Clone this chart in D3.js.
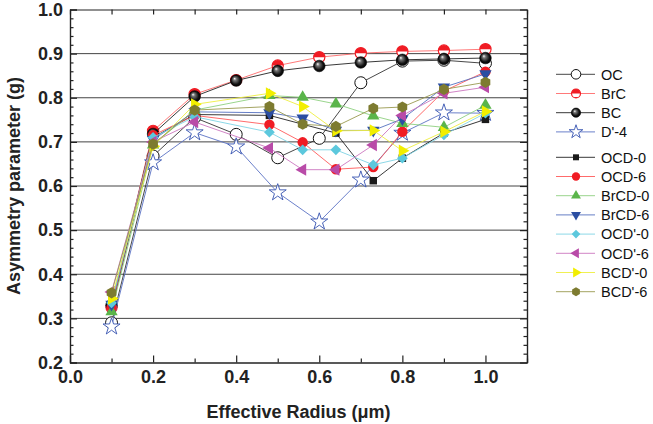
<!DOCTYPE html>
<html>
<head>
<meta charset="utf-8">
<script src="https://cdn.jsdelivr.net/npm/d3@7"></script>
<style>
  body { margin: 0; background: #fff; }
  svg { display: block; font-family: "Liberation Sans", Arial, sans-serif; }
</style>
</head>
<body>
<svg id="chart" width="653" height="424"></svg>
<script>
// effective radius values (um)
let radiusA = [0.1, 0.2, 0.3, 0.4, 0.5, 0.6, 0.7, 0.8, 0.9, 1.0];
let radiusB = [0.1, 0.2, 0.3, 0.48, 0.56, 0.64, 0.73, 0.8, 0.9, 1.0];

// asymmetry parameter g
let gOC    = [0.290, 0.668, 0.755, 0.717, 0.664, 0.708, 0.834, 0.883, 0.885, 0.878];
let gBrC   = [0.325, 0.725, 0.808, 0.840, 0.873, 0.892, 0.901, 0.905, 0.907, 0.910];
let gBC    = [0.330, 0.718, 0.803, 0.839, 0.861, 0.872, 0.880, 0.886, 0.888, 0.890];
let gD4    = [0.281, 0.653, 0.721, 0.689, 0.585, 0.519, 0.614, 0.720, 0.766, 0.765];
let gOCD0  = [0.320, 0.710, 0.762, 0.760, 0.740, 0.720, 0.612, 0.663, 0.720, 0.751];
let gOCD6  = [0.325, 0.715, 0.760, 0.739, 0.699, 0.638, 0.643, 0.723, 0.815, 0.859];
let gBrCD0 = [0.315, 0.693, 0.772, 0.805, 0.801, 0.786, 0.759, 0.742, 0.733, 0.783];
let gBrCD6 = [0.332, 0.705, 0.768, 0.766, 0.754, 0.726, 0.726, 0.752, 0.824, 0.854];
let gOCDp0 = [0.335, 0.710, 0.757, 0.722, 0.682, 0.682, 0.648, 0.663, 0.716, 0.765];
let gOCDp6 = [0.360, 0.700, 0.745, 0.686, 0.637, 0.637, 0.693, 0.760, 0.810, 0.824];
let gBCDp0 = [0.345, 0.690, 0.785, 0.810, 0.780, 0.725, 0.726, 0.680, 0.723, 0.769];
let gBCDp6 = [0.358, 0.695, 0.772, 0.780, 0.740, 0.735, 0.776, 0.779, 0.819, 0.835];

let xTicks = [0.0, 0.2, 0.4, 0.6, 0.8, 1.0];
let yTicks = [0.2, 0.3, 0.4, 0.5, 0.6, 0.7, 0.8, 0.9, 1.0];

let series = [
    {name: 'OC',     xs: radiusA, ys: gOC,    line: '#333', shape: 'open'},
    {name: 'BrC',    xs: radiusA, ys: gBrC,   line: '#ff6a6a', shape: 'half'},
    {name: 'BC',     xs: radiusA, ys: gBC,    line: '#222', shape: 'sphere'},
    {name: "D'-4",   xs: radiusA, ys: gD4,    line: '#5a72c4', shape: 'star', fill: '#3652b0'},
    {name: 'OCD-0',  xs: radiusB, ys: gOCD0,  line: '#222', shape: 'square', fill: '#1a1a1a'},
    {name: 'OCD-6',  xs: radiusB, ys: gOCD6,  line: '#ff5a5a', shape: 'circle', fill: '#f01c24'},
    {name: 'BrCD-0', xs: radiusB, ys: gBrCD0, line: '#8fd080', shape: 'up', fill: '#5ab54a'},
    {name: 'BrCD-6', xs: radiusB, ys: gBrCD6, line: '#5570c0', shape: 'down', fill: '#2b4ea2'},
    {name: "OCD'-0", xs: radiusB, ys: gOCDp0, line: '#7fd4e4', shape: 'diamond', fill: '#5cc8dd'},
    {name: "OCD'-6", xs: radiusB, ys: gOCDp6, line: '#cc77c0', shape: 'left', fill: '#b94ba8'},
    {name: "BCD'-0", xs: radiusB, ys: gBCDp0, line: '#eeee40', shape: 'right', fill: '#f2ee00'},
    {name: "BCD'-6", xs: radiusB, ys: gBCDp6, line: '#9a9a50', shape: 'hex', fill: '#7d7b30'}
];

let svg = d3.select('#chart');

let x = d3.scaleLinear().domain([0, 1.1]).range([70, 527]);
let y = d3.scaleLinear().domain([0.2, 1.0]).range([362.5, 9.5]);

let defs = svg.append('defs');
let grad = defs.append('radialGradient')
    .attr('id', 'sphere')
    .attr('cx', '50%').attr('cy', '50%').attr('r', '55%')
    .attr('fx', '35%').attr('fy', '32%');
grad.append('stop').attr('offset', '0%').attr('stop-color', '#fff');
grad.append('stop').attr('offset', '25%').attr('stop-color', '#777');
grad.append('stop').attr('offset', '70%').attr('stop-color', '#111');
grad.append('stop').attr('offset', '100%').attr('stop-color', '#000');

// grid lines
svg.append('g')
    .selectAll('line')
    .data(yTicks.slice(1, -1))
    .enter()
    .append('line')
    .attr('x1', x(0)).attr('x2', x(1.1))
    .attr('y1', (d) => y(d)).attr('y2', (d) => y(d))
    .attr('stroke', '#444')
    .attr('stroke-width', 1);

// axes: major ticks with labels, minor ticks without
let fmt = d3.format('.1f');
let xMinor = d3.range(0.1, 1.15, 0.2);
let yMinor = d3.range(0.2, 1.001, 0.02).filter((v) => Math.abs(v * 10 - Math.round(v * 10)) > 0.01);

let styleAxis = (g) => {
    g.select('.domain').attr('stroke', '#222').attr('stroke-width', 1.2);
    g.selectAll('.tick line').attr('stroke', '#222').attr('stroke-width', 1.2);
    g.selectAll('.tick text')
        .attr('font-family', '"Liberation Sans", Arial, sans-serif')
        .attr('font-size', 18)
        .attr('font-weight', 'bold')
        .attr('fill', '#222');
};

svg.append('g')
    .attr('transform', 'translate(0,' + y(0.2) + ')')
    .call(d3.axisBottom(x).tickValues(xTicks).tickFormat(fmt).tickSize(-7).tickPadding(8))
    .call(styleAxis);
svg.append('g')
    .attr('transform', 'translate(0,' + y(0.2) + ')')
    .call(d3.axisBottom(x).tickValues(xMinor).tickFormat('').tickSize(-4).tickSizeOuter(0))
    .call(styleAxis);
svg.append('g')
    .attr('transform', 'translate(0,' + y(1.0) + ')')
    .call(d3.axisTop(x).tickValues(xTicks.concat(xMinor)).tickFormat('').tickSize(-5).tickSizeOuter(0))
    .call(styleAxis);
svg.append('g')
    .attr('transform', 'translate(' + x(0) + ',0)')
    .call(d3.axisLeft(y).tickValues(yTicks).tickFormat(fmt).tickSize(-7).tickPadding(7))
    .call(styleAxis);
svg.append('g')
    .attr('transform', 'translate(' + x(0) + ',0)')
    .call(d3.axisLeft(y).tickValues(yMinor).tickFormat('').tickSize(-3.5).tickSizeOuter(0))
    .call(styleAxis);
svg.append('g')
    .attr('transform', 'translate(' + x(1.1) + ',0)')
    .call(d3.axisRight(y).tickValues(yTicks).tickFormat('').tickSize(-7).tickSizeOuter(0))
    .call(styleAxis);
svg.append('g')
    .attr('transform', 'translate(' + x(1.1) + ',0)')
    .call(d3.axisRight(y).tickValues(yMinor).tickFormat('').tickSize(-3.5).tickSizeOuter(0))
    .call(styleAxis);

// axis titles
svg.append('text')
    .attr('x', x(0.55)).attr('y', 418)
    .attr('text-anchor', 'middle')
    .attr('font-size', 18).attr('font-weight', 'bold').attr('fill', '#222')
    .text('Effective Radius (\u03bcm)');
svg.append('text')
    .attr('transform', 'translate(20,' + y(0.6) + ') rotate(-90)')
    .attr('text-anchor', 'middle')
    .attr('font-size', 18).attr('font-weight', 'bold').attr('fill', '#222')
    .text('Asymmetry parameter (g)');

// marker drawing
let hexPath = (r) => {
    let pts = d3.range(6).map((i) => {
        let a = Math.PI / 6 + i * Math.PI / 3;
        return [r * Math.cos(a), r * Math.sin(a)];
    });
    return 'M' + pts.map((p) => p.join(',')).join('L') + 'Z';
};

let drawMarker = (g, s, scale) => {
    let k = scale || 1;
    let tri = d3.symbol().type(d3.symbolTriangle).size(66 * k * k)();
    if (s.shape === 'open') {
        g.append('circle').attr('r', 6 * k).attr('fill', '#fff').attr('stroke', '#111').attr('stroke-width', 1);
    } else if (s.shape === 'half') {
        let r = 5.6 * k;
        g.append('circle').attr('r', r).attr('fill', '#fff').attr('stroke', '#f01c24').attr('stroke-width', 1.2);
        g.append('path')
            .attr('d', 'M' + (-r) + ',0A' + r + ',' + r + ' 0 0 1 ' + r + ',0Z')
            .attr('fill', '#f01c24');
        g.append('path')
            .attr('d', 'M' + (-r * 0.6) + ',' + (r * 0.8) + 'A' + r + ',' + r + ' 0 0 0 ' + (r * 0.6) + ',' + (r * 0.8) + 'Z')
            .attr('fill', '#f01c24');
    } else if (s.shape === 'sphere') {
        g.append('circle').attr('r', 5.8 * k).attr('fill', 'url(#sphere)').attr('stroke', '#000').attr('stroke-width', 0.6);
    } else if (s.shape === 'star') {
        g.append('path').attr('d', d3.symbol().type(d3.symbolStar).size(90 * k * k)())
            .attr('fill', '#fff').attr('stroke', s.fill).attr('stroke-width', 0.9);
    } else if (s.shape === 'square') {
        g.append('path').attr('d', d3.symbol().type(d3.symbolSquare).size(56 * k * k)()).attr('fill', s.fill);
    } else if (s.shape === 'circle') {
        g.append('circle').attr('r', 5.2 * k).attr('fill', s.fill);
    } else if (s.shape === 'diamond') {
        g.append('path').attr('d', d3.symbol().type(d3.symbolSquare).size(58 * k * k)())
            .attr('transform', 'rotate(45)').attr('fill', s.fill);
    } else if (s.shape === 'hex') {
        g.append('path').attr('d', hexPath(5.6 * k)).attr('fill', s.fill);
    } else {
        let rot = {up: 0, down: 180, left: -90, right: 90}[s.shape];
        g.append('path').attr('d', tri).attr('transform', 'rotate(' + rot + ')').attr('fill', s.fill);
    }
};

let line = d3.line()
    .x((d) => x(d[0]))
    .y((d) => y(d[1]));

series.forEach((s) => {
    let pts = s.xs.map((v, i) => [v, s.ys[i]]);
    let g = svg.append('g');
    g.append('path')
        .attr('d', line(pts))
        .attr('fill', 'none')
        .attr('stroke', s.line)
        .attr('stroke-width', 0.9);
    pts.forEach((p) => {
        let m = g.append('g').attr('transform', 'translate(' + x(p[0]) + ',' + y(p[1]) + ')');
        drawMarker(m, s, 1);
    });
});

// legend: two blocks
let legendRows = series.map((s, i) => {
    let top = i < 4 ? 74.3 + i * 19.2 : 157.3 + (i - 4) * 19.2;
    return {s: s, cy: top};
});

let legend = svg.append('g');
legendRows.forEach((row) => {
    let g = legend.append('g').attr('transform', 'translate(0,' + row.cy + ')');
    g.append('line')
        .attr('x1', 556).attr('x2', 595)
        .attr('stroke', row.s.line)
        .attr('stroke-width', 0.9);
    let m = g.append('g').attr('transform', 'translate(576,0)');
    drawMarker(m, row.s, 0.8);
    g.append('text')
        .attr('x', 601).attr('y', 5.2)
        .attr('font-size', 14.5)
        .attr('fill', '#111')
        .text(row.s.name);
});
</script>
</body>
</html>
